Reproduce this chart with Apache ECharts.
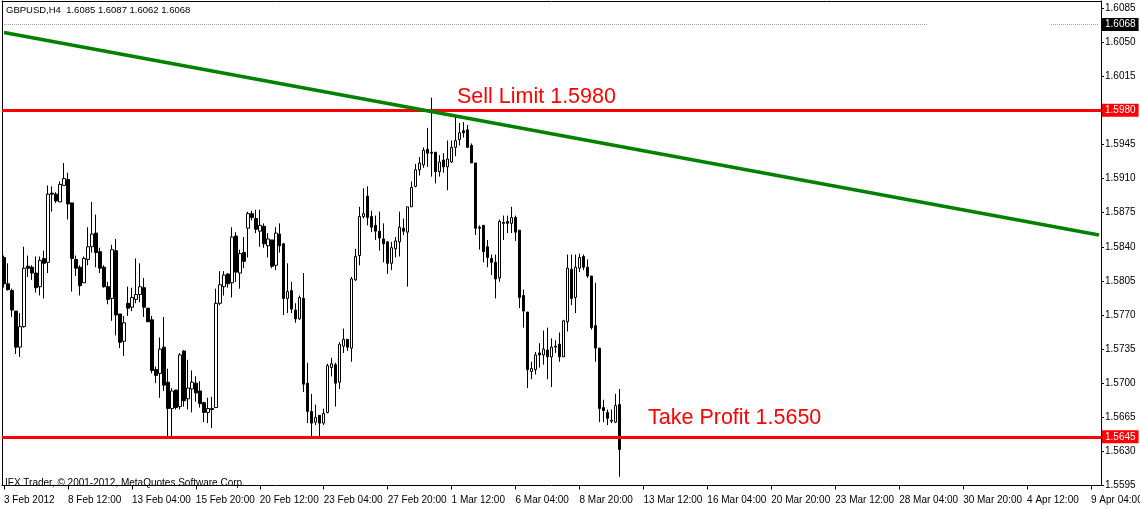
<!DOCTYPE html>
<html>
<head>
<meta charset="utf-8">
<title>GBPUSD,H4</title>
<script src="https://cdn.jsdelivr.net/npm/echarts@6/dist/echarts.min.js"></script>
<style>
html, body { margin: 0; padding: 0; background: #fff; }
#chart { width: 1140px; height: 509px; }
</style>
</head>
<body>
<div id="chart"></div>
<script>
// H4 candles (price values)
var opens = [1.5829,1.5802,1.5795,1.5774,1.5737,1.5758,1.5820,1.5819,1.5813,1.5799,1.5828,1.5824,1.5895,1.5894,1.5886,1.5903,1.5909,1.5885,1.5827,1.5819,
  1.5803,1.5827,1.5840,1.5854,1.5835,1.5819,1.5799,1.5787,1.5836,1.5771,1.5743,1.5782,1.5778,1.5786,1.5791,1.5798,1.5777,1.5765,1.5714,1.5710,
  1.5737,1.5701,1.5674,1.5693,1.5676,1.5733,1.5684,1.5694,1.5700,1.5692,1.5680,1.5670,1.5674,1.5675,1.5782,1.5799,1.5812,1.5803,1.5851,1.5813,
  1.5834,1.5859,1.5874,1.5869,1.5856,1.5861,1.5841,1.5847,1.5821,1.5853,1.5843,1.5787,1.5795,1.5775,1.5766,1.5787,1.5700,1.5671,1.5660,1.5667,
  1.5659,1.5670,1.5716,1.5719,1.5701,1.5738,1.5745,1.5736,1.5806,1.5831,1.5871,1.5892,1.5871,1.5862,1.5856,1.5848,1.5845,1.5823,1.5838,1.5845,
  1.5859,1.5855,1.5881,1.5902,1.5919,1.5924,1.5940,1.5937,1.5937,1.5917,1.5929,1.5922,1.5927,1.5942,1.5950,1.5959,1.5960,1.5944,1.5926,1.5860,
  1.5862,1.5840,1.5828,1.5824,1.5808,1.5865,1.5866,1.5864,1.5870,1.5857,1.5790,1.5773,1.5712,1.5714,1.5731,1.5729,1.5734,1.5727,1.5737,1.5740,
  1.5727,1.5763,1.5817,1.5788,1.5818,1.5830,1.5819,1.5810,1.5759,1.5736,1.5675,1.5670,1.5661,1.5660,1.5678];
var closes = [1.5802,1.5796,1.5775,1.5737,1.5758,1.5818,1.5818,1.5813,1.5798,1.5826,1.5823,1.5894,1.5894,1.5887,1.5904,1.5910,1.5884,1.5828,1.5818,1.5800,
  1.5828,1.5840,1.5853,1.5834,1.5818,1.5799,1.5786,1.5837,1.5770,1.5742,1.5762,1.5777,1.5788,1.5791,1.5799,1.5778,1.5763,1.5713,1.5708,1.5735,
  1.5698,1.5674,1.5692,1.5675,1.5729,1.5682,1.5695,1.5701,1.5690,1.5679,1.5670,1.5674,1.5673,1.5782,1.5801,1.5811,1.5802,1.5850,1.5814,1.5833,
  1.5825,1.5874,1.5870,1.5858,1.5862,1.5843,1.5848,1.5820,1.5854,1.5841,1.5787,1.5794,1.5776,1.5766,1.5788,1.5699,1.5671,1.5659,1.5665,1.5659,
  1.5669,1.5718,1.5720,1.5700,1.5740,1.5745,1.5737,1.5807,1.5830,1.5871,1.5874,1.5870,1.5860,1.5856,1.5849,1.5843,1.5823,1.5839,1.5846,1.5860,
  1.5856,1.5881,1.5901,1.5919,1.5926,1.5939,1.5936,1.5936,1.5917,1.5927,1.5922,1.5930,1.5942,1.5949,1.5957,1.5957,1.5942,1.5926,1.5859,1.5859,
  1.5835,1.5829,1.5824,1.5807,1.5866,1.5864,1.5864,1.5870,1.5855,1.5788,1.5774,1.5714,1.5715,1.5729,1.5729,1.5735,1.5727,1.5737,1.5738,1.5727,
  1.5764,1.5818,1.5787,1.5819,1.5829,1.5819,1.5810,1.5757,1.5736,1.5674,1.5672,1.5664,1.5662,1.5677,1.5632];
var lows = [1.5798,1.5795,1.5768,1.5730,1.5727,1.5757,1.5809,1.5806,1.5793,1.5790,1.5787,1.5813,1.5876,1.5885,1.5886,1.5903,1.5868,1.5794,1.5810,1.5790,
  1.5803,1.5821,1.5834,1.5819,1.5813,1.5798,1.5781,1.5764,1.5749,1.5736,1.5728,1.5769,1.5774,1.5782,1.5783,1.5768,1.5763,1.5710,1.5700,1.5685,
  1.5692,1.5645,1.5645,1.5673,1.5673,1.5676,1.5673,1.5670,1.5681,1.5675,1.5660,1.5659,1.5654,1.5675,1.5780,1.5790,1.5798,1.5788,1.5804,1.5797,
  1.5818,1.5829,1.5867,1.5854,1.5840,1.5839,1.5829,1.5818,1.5816,1.5834,1.5770,1.5772,1.5772,1.5762,1.5765,1.5691,1.5659,1.5645,1.5657,1.5645,
  1.5657,1.5669,1.5707,1.5676,1.5694,1.5731,1.5733,1.5722,1.5805,1.5821,1.5869,1.5862,1.5855,1.5847,1.5836,1.5824,1.5812,1.5816,1.5829,1.5830,
  1.5852,1.5799,1.5881,1.5901,1.5913,1.5921,1.5922,1.5912,1.5905,1.5912,1.5916,1.5898,1.5926,1.5933,1.5944,1.5952,1.5942,1.5926,1.5852,1.5837,
  1.5824,1.5819,1.5811,1.5787,1.5804,1.5847,1.5854,1.5854,1.5846,1.5777,1.5757,1.5695,1.5704,1.5709,1.5716,1.5719,1.5704,1.5696,1.5731,1.5722,
  1.5727,1.5753,1.5780,1.5772,1.5814,1.5816,1.5808,1.5755,1.5722,1.5660,1.5660,1.5657,1.5659,1.5659,1.5604];
var highs = [1.5831,1.5823,1.5797,1.5774,1.5772,1.5840,1.5831,1.5821,1.5830,1.5830,1.5836,1.5903,1.5902,1.5896,1.5907,1.5926,1.5916,1.5885,1.5831,1.5821,
  1.5830,1.5860,1.5886,1.5873,1.5839,1.5821,1.5804,1.5842,1.5848,1.5771,1.5769,1.5799,1.5798,1.5828,1.5823,1.5808,1.5777,1.5769,1.5717,1.5747,
  1.5768,1.5715,1.5695,1.5693,1.5731,1.5734,1.5724,1.5713,1.5707,1.5702,1.5681,1.5685,1.5686,1.5797,1.5815,1.5815,1.5813,1.5860,1.5855,1.5837,
  1.5850,1.5876,1.5877,1.5878,1.5878,1.5864,1.5854,1.5847,1.5860,1.5864,1.5844,1.5823,1.5804,1.5782,1.5790,1.5813,1.5721,1.5689,1.5678,1.5667,
  1.5674,1.5720,1.5726,1.5721,1.5742,1.5756,1.5745,1.5809,1.5838,1.5881,1.5900,1.5902,1.5877,1.5872,1.5876,1.5864,1.5846,1.5845,1.5850,1.5876,
  1.5869,1.5881,1.5907,1.5925,1.5932,1.5942,1.5962,1.5993,1.5937,1.5934,1.5936,1.5949,1.5949,1.5973,1.5967,1.5968,1.5965,1.5946,1.5926,1.5862,
  1.5862,1.5847,1.5832,1.5832,1.5868,1.5872,1.5872,1.5881,1.5872,1.5857,1.5796,1.5773,1.5722,1.5732,1.5741,1.5754,1.5757,1.5746,1.5744,1.5752,
  1.5765,1.5832,1.5832,1.5832,1.5833,1.5832,1.5827,1.5810,1.5803,1.5736,1.5683,1.5673,1.5673,1.5689,1.5694];

// time axis labels, one every 16 bars
var tickLabels = ['3 Feb 2012','8 Feb 12:00','13 Feb 04:00','15 Feb 20:00','20 Feb 12:00','23 Feb 04:00','27 Feb 20:00','1 Mar 12:00','6 Mar 04:00',
  '8 Mar 20:00','13 Mar 12:00','16 Mar 04:00','20 Mar 20:00','23 Mar 12:00','28 Mar 04:00','30 Mar 20:00','4 Apr 12:00','9 Apr 04:00'];
var slotCount = 275;   // bar slots visible on screen (incl. empty shift area)

var sellLimit = 1.5980;
var takeProfit = 1.5645;
var lastPrice = 1.6068;
var trendLine = [[0, 1.60598], [274, 1.58520]];

var categories = [];
for (var i = 0; i < slotCount; i++) categories.push(String(i));

var candles = [];
for (var i = 0; i < opens.length; i++) {
  candles.push([opens[i], closes[i], lows[i], highs[i]]);
}

var font = 'Liberation Sans';

var myChart = echarts.init(document.getElementById('chart'));
var option = {
  animation: false,
  backgroundColor: '#ffffff',
  grid: {
    left: 2, right: 39, top: 1, height: 484.5,
    containLabel: false,
    outerBoundsMode: 'none'
  },
  xAxis: [
    {
      type: 'category',
      data: categories,
      boundaryGap: true,
      offset: 2.5,
      axisLine: { show: true, lineStyle: { color: '#000', width: 1 } },
      axisTick: {
        show: true, alignWithLabel: true, length: 4,
        interval: function (idx) { return idx % 16 === 0; },
        lineStyle: { color: '#000' }
      },
      axisLabel: {
        interval: function (idx) { return idx % 16 === 0; },
        formatter: function (v, idx) { return tickLabels[idx / 16] || ''; },
        align: 'left',
        margin: 7,
        color: '#000',
        fontFamily: font,
        fontSize: 10
      },
      splitLine: { show: false }
    },
    {
      type: 'category',
      data: categories,
      position: 'top',
      axisLine: { show: true, lineStyle: { color: '#000', width: 1 } },
      axisTick: { show: false },
      axisLabel: { show: false },
      splitLine: { show: false }
    }
  ],
  yAxis: [
    {
      type: 'value',
      position: 'right',
      min: 1.5595,
      max: 1.60922,
      interval: 0.0035,
      axisLine: { show: true, lineStyle: { color: '#000', width: 1 } },
      axisTick: { show: true, length: 3, lineStyle: { color: '#000' } },
      axisLabel: {
        margin: 4,
        color: '#000',
        fontFamily: font,
        fontSize: 10,
        showMaxLabel: false,
        formatter: function (v) { return v.toFixed(4); }
      },
      splitLine: { show: false }
    },
    {
      type: 'value',
      position: 'left',
      axisLine: { show: true, lineStyle: { color: '#000', width: 1 } },
      axisTick: { show: false },
      axisLabel: { show: false },
      splitLine: { show: false }
    }
  ],
  series: [
    {
      name: 'GBPUSD',
      type: 'candlestick',
      xAxisIndex: 0,
      yAxisIndex: 0,
      barWidth: 3,
      data: candles,
      itemStyle: {
        color: '#ffffff',
        color0: '#000000',
        borderColor: '#000000',
        borderColor0: '#000000',
        borderColorDoji: '#000000',
        borderWidth: 1
      },
      emphasis: { disabled: true },
      markLine: {
        silent: true,
        precision: 5,
        symbol: ['none', 'none'],
        animation: false,
        data: [
          [
            { coord: [0, lastPrice] },
            { coord: [231, lastPrice] }
          ],
          [
            { coord: [262, lastPrice] },
            {
              coord: [274, lastPrice],
              label: {
                show: true, position: 'end', distance: 3,
                formatter: lastPrice.toFixed(4),
                color: '#fff', backgroundColor: '#000',
                padding: [2, 3, 1, 3], fontFamily: font, fontSize: 10
              }
            }
          ],
          {
            yAxis: sellLimit,
            lineStyle: { color: '#ff0000', width: 3, type: 'solid' },
            label: {
              show: true, position: 'end', distance: 1,
              formatter: sellLimit.toFixed(4),
              color: '#fff', backgroundColor: '#ff0000',
              padding: [2, 3, 1, 3], fontFamily: font, fontSize: 10
            }
          },
          {
            yAxis: takeProfit,
            lineStyle: { color: '#ff0000', width: 3, type: 'solid' },
            label: {
              show: true, position: 'end', distance: 1,
              formatter: takeProfit.toFixed(4),
              color: '#fff', backgroundColor: '#ff0000',
              padding: [2, 3, 1, 3], fontFamily: font, fontSize: 10
            }
          },
          [
            { coord: trendLine[0], lineStyle: { color: '#008000', width: 3.5, type: 'solid' } },
            { coord: trendLine[1] }
          ]
        ],
        lineStyle: { color: '#a0a0a0', width: 1, type: 'dotted' },
        label: { show: false }
      }
    }
  ],
  graphic: [
    {
      type: 'text', left: 6, top: 5, z: 10,
      style: { text: 'GBPUSD,H4  1.6085 1.6087 1.6062 1.6068', fill: '#000', fontFamily: font, fontSize: 9.5 }
    },
    {
      type: 'text', left: 5, top: 478, z: 10,
      style: { text: 'IFX Trader, © 2001-2012, MetaQuotes Software Corp.', fill: '#000', fontFamily: font, fontSize: 10 }
    },
    {
      type: 'text', left: 457, top: 86, z: 10,
      style: { text: 'Sell Limit 1.5980', fill: '#ff0000', fontFamily: font, fontSize: 21.5 }
    },
    {
      type: 'text', left: 648, top: 407, z: 10,
      style: { text: 'Take Profit 1.5650', fill: '#ff0000', fontFamily: font, fontSize: 21.5 }
    }
  ]
};

myChart.setOption(option);
</script>
</body>
</html>
